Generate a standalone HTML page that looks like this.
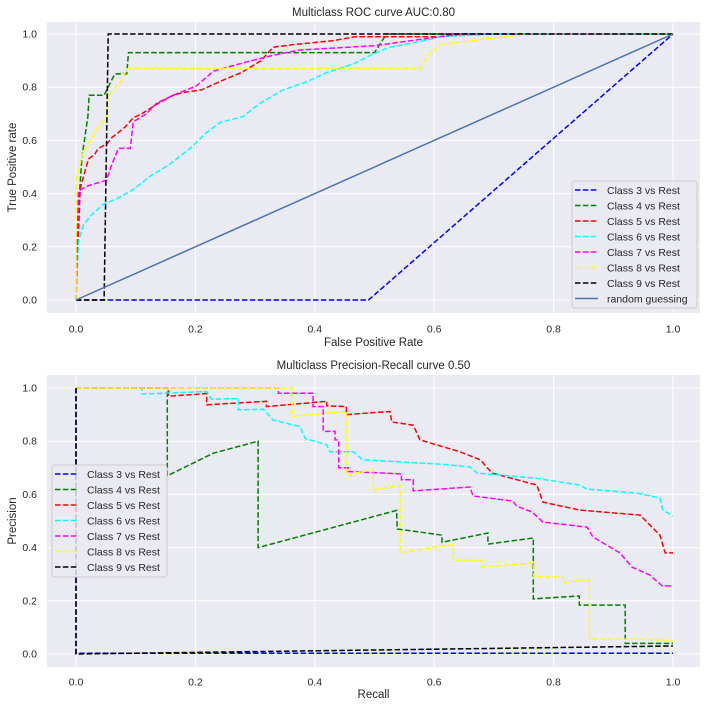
<!DOCTYPE html>
<html><head><meta charset="utf-8">
<style>
html,body{margin:0;padding:0;background:#fff;}
svg{display:block;font-family:"Liberation Sans",sans-serif;}
</style></head>
<body>
<svg id="chart" width="708" height="708" viewBox="0 0 708 708" xmlns="http://www.w3.org/2000/svg">
<rect x="0" y="0" width="708" height="708" fill="#fff"/>
<g id="top"></g>
<g id="bot"></g>
</svg>
<script>
// ---- data ----
const xTicks = [0, 0.2, 0.4, 0.6, 0.8, 1.0];
const yTicks = [0, 0.2, 0.4, 0.6, 0.8, 1.0];
const tickLabels = ["0.0", "0.2", "0.4", "0.6", "0.8", "1.0"];
const classNames = ["Class 3 vs Rest","Class 4 vs Rest","Class 5 vs Rest","Class 6 vs Rest","Class 7 vs Rest","Class 8 vs Rest","Class 9 vs Rest"];
const classColors = ["#0000ff","#008000","#ff0000","#00ffff","#ff00ff","#ffff00","#000000"];

const roc3 = [[0,0],[0.49,0],[1,1]];
const roc4 = [[0,0],[0.003,0.31],[0.01,0.54],[0.02,0.69],[0.022,0.77],[0.047,0.77],[0.065,0.85],[0.085,0.85],[0.088,0.93],[0.50,0.93],[0.52,1.0],[1,1]];
const roc5 = [[0,0],[0.004,0.24],[0.007,0.42],[0.012,0.46],[0.021,0.53],[0.032,0.55],[0.037,0.57],[0.051,0.585],[0.06,0.61],[0.071,0.63],[0.082,0.65],[0.096,0.685],[0.11,0.70],[0.124,0.72],[0.138,0.74],[0.163,0.77],[0.18,0.78],[0.21,0.79],[0.23,0.81],[0.25,0.83],[0.277,0.855],[0.31,0.90],[0.33,0.95],[0.364,0.96],[0.43,0.975],[0.467,0.99],[0.61,0.99],[0.63,1.0],[1,1]];
const roc6 = [[0,0],[0.002,0.11],[0.004,0.22],[0.012,0.28],[0.026,0.32],[0.046,0.36],[0.068,0.38],[0.096,0.415],[0.124,0.465],[0.157,0.51],[0.191,0.57],[0.219,0.63],[0.241,0.667],[0.28,0.69],[0.308,0.74],[0.347,0.79],[0.386,0.82],[0.42,0.855],[0.464,0.887],[0.498,0.925],[0.526,0.95],[0.582,0.975],[0.61,0.99],[0.70,1.0],[1,1]];
const roc7 = [[0,0],[0.004,0.41],[0.021,0.43],[0.051,0.45],[0.06,0.51],[0.071,0.57],[0.091,0.57],[0.096,0.67],[0.118,0.70],[0.135,0.74],[0.163,0.77],[0.202,0.805],[0.23,0.86],[0.277,0.89],[0.33,0.92],[0.375,0.94],[0.5,0.956],[0.61,0.99],[0.65,1.0],[1,1]];
const roc8 = [[0,0],[0,0.45],[0.011,0.55],[0.034,0.64],[0.051,0.69],[0.054,0.77],[0.074,0.82],[0.086,0.87],[0.576,0.87],[0.59,0.92],[0.61,0.96],[0.68,0.98],[0.76,1.0],[1,1]];
const roc9 = [[0,0],[0.047,0],[0.054,1],[1,1]];
const rocRandom = [[0,0],[1,1]];

const pr3 = [[0,1],[0,0.003],[1,0.003]];
const pr4 = [[0,1],[0.153,1],[0.153,0.67],[0.23,0.755],[0.305,0.80],[0.305,0.40],[0.537,0.54],[0.538,0.47],[0.613,0.447],[0.613,0.42],[0.69,0.455],[0.69,0.413],[0.766,0.436],[0.766,0.207],[0.843,0.218],[0.843,0.184],[0.92,0.184],[0.92,0.04],[1,0.04]];
const pr5 = [[0,1],[0.155,1],[0.155,0.969],[0.219,0.979],[0.219,0.937],[0.319,0.95],[0.319,0.93],[0.42,0.95],[0.42,0.933],[0.453,0.93],[0.453,0.90],[0.526,0.912],[0.529,0.872],[0.565,0.86],[0.576,0.805],[0.643,0.76],[0.677,0.73],[0.697,0.68],[0.772,0.635],[0.782,0.571],[0.844,0.541],[0.945,0.522],[0.958,0.492],[0.978,0.447],[0.987,0.38],[1,0.38]];
const pr6 = [[0,1],[0.11,1],[0.11,0.977],[0.219,0.987],[0.227,0.958],[0.272,0.96],[0.272,0.918],[0.314,0.92],[0.33,0.88],[0.375,0.855],[0.384,0.81],[0.42,0.787],[0.425,0.76],[0.465,0.76],[0.48,0.73],[0.61,0.714],[0.66,0.703],[0.672,0.68],[0.772,0.66],[0.844,0.635],[0.856,0.62],[0.94,0.605],[0.978,0.586],[0.983,0.541],[1,0.519]];
const pr7 = [[0,1],[0.339,1],[0.339,0.98],[0.397,0.98],[0.397,0.93],[0.414,0.93],[0.414,0.837],[0.434,0.837],[0.434,0.805],[0.44,0.805],[0.44,0.70],[0.456,0.70],[0.456,0.686],[0.545,0.677],[0.545,0.655],[0.565,0.655],[0.565,0.613],[0.66,0.628],[0.665,0.594],[0.732,0.575],[0.738,0.556],[0.764,0.534],[0.782,0.496],[0.856,0.477],[0.866,0.44],[0.911,0.38],[0.931,0.327],[0.961,0.297],[0.982,0.256],[1,0.256]];
const pr8 = [[0,1],[0.362,1],[0.362,0.893],[0.453,0.912],[0.453,0.674],[0.498,0.693],[0.498,0.617],[0.543,0.634],[0.543,0.381],[0.632,0.413],[0.632,0.353],[0.68,0.353],[0.68,0.327],[0.767,0.342],[0.767,0.29],[0.816,0.29],[0.816,0.27],[0.86,0.278],[0.86,0.056],[0.95,0.056],[1,0.05]];
const pr9 = [[0,1],[0,0],[1,0.03]];

// ---- helpers ----
const NS = "http://www.w3.org/2000/svg";
function mk(tag, attrs, parent){const e=document.createElementNS(NS,tag);for(const k in attrs)e.setAttribute(k,attrs[k]);parent.appendChild(e);return e;}
const X0=76, XW=597, FL=47, FR=700;
function sx(v){return X0+XW*v;}

function drawAxes(g, top, bottom, y0, title, xlabel, ylabel, tickY, xlabY){
  const sy=v=>y0-266*v;
  const bg=mk("rect",{x:FL,y:top,width:FR-FL,height:bottom-top,fill:"#eaeaf2"},g);
  
  
  xTicks.forEach((t,i)=>{
    mk("line",{x1:sx(t),x2:sx(t),y1:top,y2:bottom,stroke:"#fff","stroke-width":1},g);
    const tx=mk("text",{x:sx(t),y:tickY+3.5,"text-anchor":"middle","font-size":"10.5",fill:"#262626"},g);
    tx.textContent=tickLabels[i];
    
    
  });
  yTicks.forEach((t,i)=>{
    mk("line",{x1:FL,x2:FR,y1:sy(t),y2:sy(t),stroke:"#fff","stroke-width":1},g);
    const tx=mk("text",{x:37,y:sy(t)+3.5,"text-anchor":"end","font-size":"10.5",fill:"#262626"},g);
    tx.textContent=tickLabels[i];
    
    
  });
  const tt=mk("text",{x:(FL+FR)/2,y:top-6,"text-anchor":"middle","font-size":"11.5",fill:"#262626"},g);
  tt.textContent=title;
  
  
  const xl=mk("text",{x:(FL+FR)/2,y:xlabY+4,"text-anchor":"middle","font-size":"11.5",fill:"#262626"},g);
  xl.textContent=xlabel;
  
  
  const cy=(top+bottom)/2;
  const yl=mk("text",{x:16,y:cy,"text-anchor":"middle","font-size":"11.5",fill:"#262626",transform:`rotate(-90 16 ${cy})`},g);
  yl.textContent=ylabel;
  
  
  return sy;
}
function drawLine(g, pts, sy, color, dashed, name){
  const p=mk("polyline",{points:pts.map(d=>sx(d[0]).toFixed(1)+","+sy(d[1]).toFixed(1)).join(" "),fill:"none",stroke:color,"stroke-width":1.5,"stroke-dasharray":dashed?"5.5,2.4":"none","stroke-linejoin":"miter"},g);
  
  
}
function drawLegend(g, x, y, w, h, x1, x2, tx, row0, names, colors, dashes){
  const box=mk("rect",{x:x,y:y,width:w,height:h,rx:3,fill:"#eaeaf2","fill-opacity":0.85,stroke:"#cccccc","stroke-width":1},g);
  
  
  names.forEach((n,i)=>{
    const yy=row0+i*15.5;
    const ln=mk("line",{x1:x1,x2:x2,y1:yy,y2:yy,stroke:colors[i],"stroke-width":1.5,"stroke-dasharray":dashes[i]?"5.5,2.4":"none"},g);
    
    
    const t=mk("text",{x:tx,y:yy+4,"font-size":"10.5",fill:"#262626"},g);
    t.textContent=n;
    
    
  });
}

// ---- top ROC ----
const gt=document.getElementById("top");
const syT=drawAxes(gt,22,313,300,"Multiclass ROC curve AUC:0.80","False Positive Rate","True Positive rate",329,342);
const rocs=[roc3,roc4,roc5,roc6,roc7,roc8,roc9];
rocs.forEach((r,i)=>drawLine(gt,r,syT,classColors[i],true,"roc-line-class-"+(i+3)));
drawLine(gt,rocRandom,syT,"#4c72b0",false,"random-guessing-line");
drawLegend(gt,572,181,125,127,575,598,607,190,classNames.concat(["random guessing"]),classColors.concat(["#4c72b0"]),[1,1,1,1,1,1,1,0]);

// ---- bottom PR ----
const gb=document.getElementById("bot");
const syB=drawAxes(gb,375,667,654,"Multiclass Precision-Recall curve 0.50","Recall","Precision",682,694);
const prs=[pr3,pr4,pr5,pr6,pr7,pr8,pr9];
prs.forEach((r,i)=>drawLine(gb,r,syB,classColors[i],true,"pr-line-class-"+(i+3)));
drawLegend(gb,52,465,115,112,55,77,87,474,classNames,classColors,[1,1,1,1,1,1,1]);
</script>
</body></html>
